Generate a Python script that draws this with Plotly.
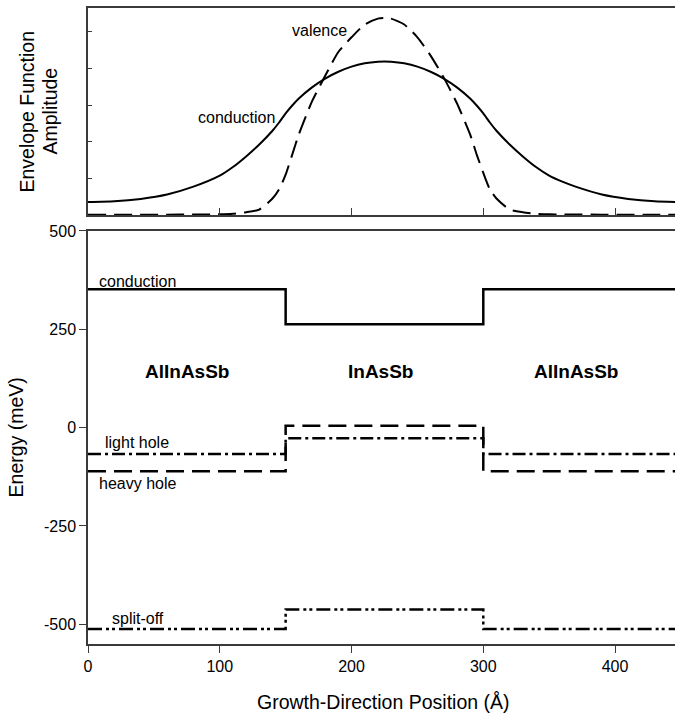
import plotly.graph_objects as go
from plotly.subplots import make_subplots

# ---- envelope functions (arbitrary units) ----
env_x = [0, 20, 40, 60, 80, 100, 110, 120, 130, 140, 145, 150, 155, 160, 170, 180,
         190, 200, 210, 220, 225, 230, 240, 250, 260, 270, 280, 290, 295, 300, 305,
         310, 320, 330, 340, 350, 360, 370, 390, 410, 430, 450]
conduction_env = [0.071, 0.075, 0.088, 0.112, 0.155, 0.215, 0.262, 0.320, 0.385, 0.460,
                  0.505, 0.555, 0.598, 0.636, 0.697, 0.745, 0.782, 0.810, 0.828, 0.837,
                  0.838, 0.837, 0.828, 0.810, 0.782, 0.745, 0.697, 0.636, 0.598, 0.555,
                  0.505, 0.460, 0.385, 0.320, 0.262, 0.215, 0.182, 0.155, 0.112, 0.088,
                  0.075, 0.071]
valence_env = [0.002, 0.002, 0.002, 0.002, 0.003, 0.004, 0.007, 0.015, 0.030, 0.090,
               0.140, 0.220, 0.330, 0.440, 0.620, 0.760, 0.890, 0.970, 1.040, 1.072,
               1.076, 1.072, 1.040, 0.970, 0.870, 0.750, 0.610, 0.440, 0.330, 0.230,
               0.140, 0.090, 0.030, 0.015, 0.007, 0.004, 0.003, 0.003, 0.002, 0.002,
               0.002, 0.002]

# ---- band edges (meV) for AlInAsSb / InAsSb / AlInAsSb ----
layer_edges = [0, 150, 300, 450]
layer_names = ["AlInAsSb", "InAsSb", "AlInAsSb"]
layer_label_x = [75, 222, 370]
conduction_band = [352, 263, 352, 352]
heavy_hole = [-111, 5, -111, -111]
light_hole = [-67, -27, -67, -67]
split_off = [-512, -462, -512, -512]

x_ticks = [0, 100, 200, 300, 400]
energy_ticks = [-500, -250, 0, 250, 500]

FONT = "Liberation Sans, Arial, Helvetica, sans-serif"
AXIS_COLOR = "#3a3a3a"

fig = make_subplots(rows=2, cols=1, shared_xaxes=False, vertical_spacing=0.0)

fig.add_trace(go.Scatter(x=env_x, y=conduction_env, mode="lines",
                         line=dict(color="black", width=2, shape="spline", smoothing=0.6),
                         showlegend=False),
              row=1, col=1)
fig.add_trace(go.Scatter(x=env_x, y=valence_env, mode="lines",
                         line=dict(color="black", width=2, dash="18px,8px",
                                   shape="spline", smoothing=0.6),
                         showlegend=False),
              row=1, col=1)

bands = [
    (conduction_band, "solid"),
    (heavy_hole, "18px,8px"),
    (light_hole, "13px,4px,3px,4px"),
    (split_off, "14px,4px,3px,3px,3px,4px"),
]
for values, dash in bands:
    fig.add_trace(go.Scatter(x=layer_edges, y=values, mode="lines", line_shape="hv",
                             line=dict(color="black", width=2.5, dash=dash),
                             showlegend=False),
                  row=2, col=1)

H = 715
top_m, bot_m = 5, 71
ph = H - top_m - bot_m
top_dom = [(644 - 213) / ph, 1.0]
bot_dom = [0.0, (644 - 229) / ph]

xr = [0, 445.5]
fig.update_layout(
    width=675, height=H,
    margin=dict(l=88, r=0, t=top_m, b=bot_m),
    paper_bgcolor="white", plot_bgcolor="white",
    font=dict(family=FONT, size=16, color="black"),
    xaxis=dict(domain=[0, 1], range=xr, showgrid=False, zeroline=False,
               showline=True, linecolor=AXIS_COLOR, linewidth=1.5, mirror=True,
               ticks="inside", ticklen=7, tickcolor=AXIS_COLOR, tickwidth=1,
               tickvals=[100, 200, 300, 400], showticklabels=False),
    yaxis=dict(domain=top_dom, range=[0, 1.13], showgrid=False, zeroline=False,
               showline=True, linecolor=AXIS_COLOR, linewidth=1.5,
               ticks="inside", ticklen=4, tickcolor=AXIS_COLOR, tickwidth=1,
               tickvals=[0.2, 0.4, 0.6, 0.8, 1.0], showticklabels=False),
    xaxis2=dict(domain=[0, 1], range=xr, showgrid=False, zeroline=False,
                showline=True, linecolor=AXIS_COLOR, linewidth=1.5, mirror=True,
                ticks="outside", ticklen=7, tickcolor=AXIS_COLOR, tickwidth=1,
                tickvals=x_ticks, ticktext=[str(v) for v in x_ticks],
                tickfont=dict(size=16)),
    yaxis2=dict(domain=bot_dom, range=[-550, 500], showgrid=False, zeroline=False,
                showline=True, linecolor=AXIS_COLOR, linewidth=1.5,
                ticks="outside", ticklen=7, tickcolor=AXIS_COLOR, tickwidth=1,
                tickvals=energy_ticks, ticktext=[str(v) for v in energy_ticks],
                tickfont=dict(size=16)),
)

ann = []
# axis titles
ann.append(dict(text="Growth-Direction Position (Å)", xref="paper", yref="paper",
                x=(384 - 88) / 587, y=-(702 - 644) / ph, xanchor="center", yanchor="middle",
                showarrow=False, font=dict(size=19.5)))
ann.append(dict(text="Energy (meV)", xref="paper", yref="paper",
                x=(16 - 88) / 587, y=(644 - 436.5) / ph, xanchor="center", yanchor="middle",
                textangle=-90, showarrow=False, font=dict(size=19.5)))
ann.append(dict(text="Envelope Function", xref="paper", yref="paper",
                x=(27 - 88) / 587, y=(644 - 109) / ph, xanchor="center", yanchor="middle",
                textangle=-90, showarrow=False, font=dict(size=19.5)))
ann.append(dict(text="Amplitude", xref="paper", yref="paper",
                x=(50 - 88) / 587, y=(644 - 109) / ph, xanchor="center", yanchor="middle",
                textangle=-90, showarrow=False, font=dict(size=19.5)))

# curve labels in the envelope panel
ann.append(dict(text="valence", xref="x", yref="y", x=176, y=1.009,
                xanchor="center", yanchor="middle", showarrow=False))
ann.append(dict(text="conduction", xref="x", yref="y", x=113, y=0.533,
                xanchor="center", yanchor="middle", showarrow=False))

# band labels
ann.append(dict(text="conduction", xref="x2", yref="y2", x=6.6, y=371,
                xanchor="left", yanchor="middle", showarrow=False))
ann.append(dict(text="light hole", xref="x2", yref="y2", x=11.4, y=-38,
                xanchor="left", yanchor="middle", showarrow=False))
ann.append(dict(text="heavy hole", xref="x2", yref="y2", x=6.6, y=-142,
                xanchor="left", yanchor="middle", showarrow=False))
ann.append(dict(text="split-off", xref="x2", yref="y2", x=16.7, y=-484,
                xanchor="left", yanchor="middle", showarrow=False))

for name, lx in zip(layer_names, layer_label_x):
    ann.append(dict(text="<b>%s</b>" % name, xref="x2", yref="y2", x=lx, y=143,
                    xanchor="center", yanchor="middle", showarrow=False,
                    font=dict(size=19)))

fig.update_layout(annotations=ann)
fig.write_html("out.html")
